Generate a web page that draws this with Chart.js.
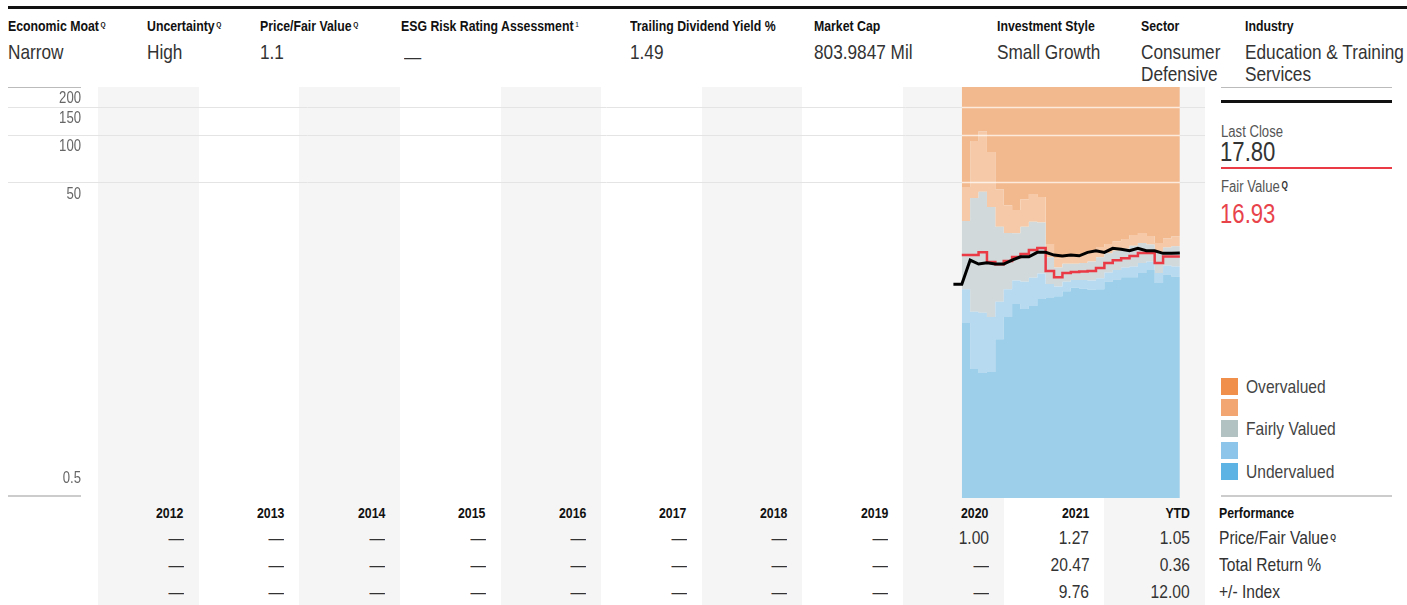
<!DOCTYPE html>
<html>
<head>
<meta charset="utf-8">
<script src="https://cdn.jsdelivr.net/npm/chart.js@4.4.0/dist/chart.umd.min.js"></script>
<style>
  body { margin:0; width:1407px; height:605px; position:relative; background:#fff; overflow:hidden;
    font-family:"Liberation Sans",Arial,sans-serif; color:#333; }
  .abs { position:absolute; white-space:nowrap; }
  .t { transform:scaleX(0.82); transform-origin:0 0; }
  .lbl { font-size:15px; font-weight:bold; color:#111; line-height:16px; }
  .val { font-size:21px; line-height:22px; color:#333; }
  .q { font-size:8px; font-weight:bold; vertical-align:top; position:relative; top:-1px; margin-left:2px; }
  .band { position:absolute; top:87px; height:518px; background:#f5f5f5; }
  .cell { position:absolute; text-align:right; box-sizing:border-box; padding-right:15px; white-space:nowrap; }
  .cell span { display:inline-block; transform:scaleX(0.82); transform-origin:100% 0; }
  .yr { font-size:15px; font-weight:bold; color:#111; line-height:16px; }
  .num { font-size:19px; color:#333; line-height:22px; }
  .sw { position:absolute; left:1221px; width:17px; height:17px; }
  .lg { position:absolute; left:1246px; font-size:19px; line-height:22px; color:#444; white-space:nowrap; }
  #wrap { position:absolute; left:0; top:87px; width:1205px; height:411px; }
</style>
</head>
<body>
<div id="bands"></div>

<div class="abs" style="left:8px;top:6px;right:0;height:3px;background:#111"></div>

<div class="abs t lbl" style="left:8px;top:18px">Economic Moat<span class="q">Q</span></div>
<div class="abs t val" style="left:8px;top:41px">Narrow</div>
<div class="abs t lbl" style="left:147px;top:18px">Uncertainty<span class="q">Q</span></div>
<div class="abs t val" style="left:147px;top:41px">High</div>
<div class="abs t lbl" style="left:260px;top:18px">Price/Fair Value<span class="q">Q</span></div>
<div class="abs t val" style="left:260px;top:41px">1.1</div>
<div class="abs t lbl" style="left:401px;top:18px">ESG Risk Rating Assessment<span class="q" style="font-weight:normal">1</span></div>
<div class="abs t val" style="left:404px;top:46px">—</div>
<div class="abs t lbl" style="left:630px;top:18px">Trailing Dividend Yield %</div>
<div class="abs t val" style="left:630px;top:41px">1.49</div>
<div class="abs t lbl" style="left:814px;top:18px">Market Cap</div>
<div class="abs t val" style="left:814px;top:41px">803.9847 Mil</div>
<div class="abs t lbl" style="left:997px;top:18px">Investment Style</div>
<div class="abs t val" style="left:997px;top:41px">Small Growth</div>
<div class="abs t lbl" style="left:1141px;top:18px">Sector</div>
<div class="abs t val" style="left:1141px;top:41px">Consumer<br>Defensive</div>
<div class="abs t lbl" style="left:1245px;top:18px">Industry</div>
<div class="abs t val" style="left:1245px;top:41px">Education &amp; Training<br>Services</div>

<div class="abs" style="left:1221px;top:87px;width:171px;height:1px;background:#bbb"></div>
<div class="abs" style="left:1221px;top:100px;width:171px;height:3px;background:#111"></div>
<div class="abs t" style="left:1221px;top:122px;font-size:16px;line-height:19px;color:#555">Last Close</div>
<div class="abs t" style="left:1220px;top:136px;font-size:27px;line-height:32px;color:#333">17.80</div>
<div class="abs" style="left:1221px;top:167px;width:171px;height:2px;background:#e93a45"></div>
<div class="abs t" style="left:1221px;top:177px;font-size:16px;line-height:19px;color:#555">Fair Value<span class="q" style="font-size:10px;color:#333">Q</span></div>
<div class="abs t" style="left:1220px;top:198px;font-size:27px;line-height:32px;color:#e8434b">16.93</div>

<div class="sw" style="top:378px;background:#ef8f4b"></div>
<div class="lg t" style="top:376px">Overvalued</div>
<div class="sw" style="top:399px;background:#f2a773"></div>
<div class="sw" style="top:420px;background:#b2c1c1"></div>
<div class="lg t" style="top:418px">Fairly Valued</div>
<div class="sw" style="top:442px;background:#8dc5ea"></div>
<div class="sw" style="top:463px;background:#5db3e4"></div>
<div class="lg t" style="top:461px">Undervalued</div>
<div class="abs" style="left:1221px;top:495px;width:171px;height:2px;background:#ccc"></div>

<div class="abs t yr" style="left:1219px;top:505px">Performance</div>
<div class="abs t num" style="left:1219px;top:527px">Price/Fair Value<span class="q" style="font-size:9px;color:#333">Q</span></div>
<div class="abs t num" style="left:1219px;top:554px">Total Return %</div>
<div class="abs t num" style="left:1219px;top:581px">+/- Index</div>

<div id="table"></div>
<div id="wrap"><canvas id="chart" width="1205" height="411"></canvas></div>

<script>
// monthly valuation bands (upper edge of each band), Aug 2020 - Sep 2022
const bandMonths = ["2020-08", "2020-09", "2020-10", "2020-11", "2020-12",
  "2021-01", "2021-02", "2021-03", "2021-04", "2021-05", "2021-06",
  "2021-07", "2021-08", "2021-09", "2021-10", "2021-11", "2021-12",
  "2022-01", "2022-02", "2022-03", "2022-04", "2022-05", "2022-06",
  "2022-07", "2022-08", "2022-09"];
const bandEnd = "2022-10";
const underTop = [6.42, 3.28, 3.09, 3.14, 5.06, 6.99, 8.47, 7.85, 8.22, 9.08, 9.24, 9.48, 10.2,
  10.7, 10.6, 10.4, 10.5, 11.7, 12.1, 12.5, 12.5, 13.3, 13.9, 11.5, 13.0, 12.6];
const lightBlueTop = [10.5, 7.54, 7.45, 7.0, 8.74, 10.5, 11.9, 11.7, 12.4, 13.2, 11.3, 10.9, 11.7,
  12.0, 12.0, 11.9, 12.3, 13.4, 13.9, 14.4, 14.6, 15.4, 15.7, 13.3, 14.8, 14.6];
const fairTop = [28.4, 39.7, 43.5, 34.8, 26.1, 23.8, 23.7, 26.1, 28.0, 27.7, 16.7, 14.4, 15.2,
  15.2, 15.4, 15.7, 16.7, 17.7, 18.4, 18.9, 19.8, 20.6, 20.1, 17.8, 19.3, 19.6];
const lightOrangeTop = [46.6, 91.1, 105, 77.5, 45.1, 35.7, 33.3, 39.0, 42.1, 40.2, 20.3, 16.5, 17.3,
  17.0, 17.4, 18.1, 19.4, 20.3, 21.1, 21.8, 23.1, 23.8, 22.8, 20.6, 22.0, 22.7];
const fairValue = [17.3, 17.3, 18.0, 15.6, 15.1, 15.8, 16.8, 17.5, 18.6, 19.1, 13.7, 12.5, 13.3,
  13.5, 13.6, 13.7, 14.3, 15.4, 16.0, 16.5, 17.0, 17.8, 17.8, 15.4, 16.9, 16.93];

const priceMonths = ["2020-07", "2020-08", "2020-09", "2020-10", "2020-11", "2020-12",
  "2021-01", "2021-02", "2021-03", "2021-04", "2021-05", "2021-06",
  "2021-07", "2021-08", "2021-09", "2021-10", "2021-11", "2021-12",
  "2022-01", "2022-02", "2022-03", "2022-04", "2022-05", "2022-06",
  "2022-07", "2022-08", "2022-09", "2022-10"];
const lastPrice = [11.26, 11.26, 16.04, 15.14, 15.43, 15.14, 15.14, 16.04, 16.84, 16.84, 17.95, 17.95,
  17.26, 17.01, 17.26, 17.08, 17.95, 18.37, 17.95, 19.03, 18.76, 18.37, 19.03, 18.37,
  18.37, 17.69, 17.69, 17.80];

const yTicks = [0.5, 50, 100, 150, 200];
const gridTicks = [50, 100, 150];

// table under the chart
const years = ["2012", "2013", "2014", "2015", "2016", "2017", "2018", "2019", "2020", "2021", "YTD"];
const pfvRow = ["—", "—", "—", "—", "—", "—", "—", "—", "1.00", "1.27", "1.05"];
const totalReturnRow = ["—", "—", "—", "—", "—", "—", "—", "—", "—", "20.47", "0.36"];
const indexRow = ["—", "—", "—", "—", "—", "—", "—", "—", "—", "9.76", "12.00"];

const firstYear = 2012;
const colW = 1107 / years.length;

function monthIndex(s) {
  var p = s.split("-").map(Number);
  return (p[0] - firstYear) * 12 + (p[1] - 1);
}

function stepPts(vals) {
  var pts = vals.map(function (v, i) { return { x: monthIndex(bandMonths[i]), y: v }; });
  pts.push({ x: monthIndex(bandEnd), y: vals[vals.length - 1] });
  return pts;
}

// background column bands + table text
var bandsEl = document.getElementById("bands");
var tableEl = document.getElementById("table");
years.forEach(function (yr, i) {
  var left = 98 + i * colW;
  if (i % 2 === 0) {
    var b = document.createElement("div");
    b.className = "band";
    b.style.left = left + "px";
    b.style.width = colW + "px";
    bandsEl.appendChild(b);
  }
  var rows = [[yr, "yr", 505], [pfvRow[i], "num", 527], [totalReturnRow[i], "num", 554], [indexRow[i], "num", 581]];
  rows.forEach(function (r) {
    var c = document.createElement("div");
    c.className = "cell " + r[1];
    c.style.left = left + "px";
    c.style.width = colW + "px";
    c.style.top = r[2] + "px";
    var s = document.createElement("span");
    s.textContent = r[0];
    c.appendChild(s);
    tableEl.appendChild(c);
  });
});

var axisPlugin = {
  id: "axisPlugin",
  beforeDatasetsDraw: function (chart) {
    var ctx = chart.ctx, y = chart.scales.y, area = chart.chartArea;
    ctx.save();
    ctx.strokeStyle = "#e4e4e4";
    ctx.lineWidth = 1;
    gridTicks.forEach(function (v) {
      var py = Math.round(y.getPixelForValue(v)) + 0.5;
      ctx.beginPath(); ctx.moveTo(8, py); ctx.lineTo(area.right, py); ctx.stroke();
    });
    ctx.restore();
  },
  afterDatasetsDraw: function (chart) {
    var ctx = chart.ctx, y = chart.scales.y, x = chart.scales.x;
    ctx.save();
    // light lines across the coloured bands
    var x0 = x.getPixelForValue(monthIndex(bandMonths[0]));
    var x1 = x.getPixelForValue(monthIndex(bandEnd));
    ctx.strokeStyle = "rgba(255,255,255,0.7)";
    ctx.lineWidth = 1.5;
    gridTicks.forEach(function (v) {
      var py = Math.round(y.getPixelForValue(v)) + 0.5;
      ctx.beginPath(); ctx.moveTo(x0, py); ctx.lineTo(x1, py); ctx.stroke();
    });
    // left axis rules
    ctx.strokeStyle = "#bbb";
    ctx.lineWidth = 1;
    ctx.beginPath(); ctx.moveTo(8, 0.5); ctx.lineTo(81, 0.5); ctx.stroke();
    ctx.strokeStyle = "#ccc";
    ctx.lineWidth = 2;
    ctx.beginPath(); ctx.moveTo(8, 409); ctx.lineTo(81, 409); ctx.stroke();
    // tick labels (narrowed)
    ctx.fillStyle = "#666";
    ctx.font = '16px "Liberation Sans", Arial, sans-serif';
    ctx.textAlign = "right";
    ctx.textBaseline = "middle";
    yTicks.forEach(function (v) {
      var py = y.getPixelForValue(v);
      var ly = v === y.min ? py - 19 : py + 12;
      ctx.save();
      ctx.translate(81, ly);
      ctx.scale(0.82, 1);
      ctx.fillText(String(v), 0, 0);
      ctx.restore();
    });
    ctx.restore();
  }
};

function band(data, color, fill) {
  return { data: stepPts(data), stepped: true, fill: fill, backgroundColor: color,
    borderWidth: 0, pointRadius: 0, order: 2 };
}

new Chart(document.getElementById("chart"), {
  type: "line",
  data: {
    datasets: [
      band(underTop, "#9dcfeb", "start"),
      band(lightBlueTop, "#b8daf1", "-1"),
      band(fairTop, "#d1d9da", "-1"),
      band(lightOrangeTop, "#f6caa8", "-1"),
      band(lightOrangeTop, "#f3b98e", "end"),
      {
        data: stepPts(fairValue), stepped: true, fill: false, borderColor: "#e93a45",
        borderWidth: 2.5, pointRadius: 0, order: 1
      },
      {
        data: lastPrice.map(function (v, i) { return { x: monthIndex(priceMonths[i]), y: v }; }),
        fill: false, borderColor: "#000", borderWidth: 3, pointRadius: 0, tension: 0, order: 0
      }
    ]
  },
  options: {
    responsive: false,
    animation: false,
    layout: { padding: { left: 98, right: 0, top: 0, bottom: 0 } },
    plugins: { legend: { display: false }, tooltip: { enabled: false } },
    scales: {
      x: { type: "linear", min: 0, max: years.length * 12, display: false },
      y: { type: "logarithmic", min: 0.5, max: 200, display: false }
    }
  },
  plugins: [axisPlugin]
});
</script>
</body>
</html>
